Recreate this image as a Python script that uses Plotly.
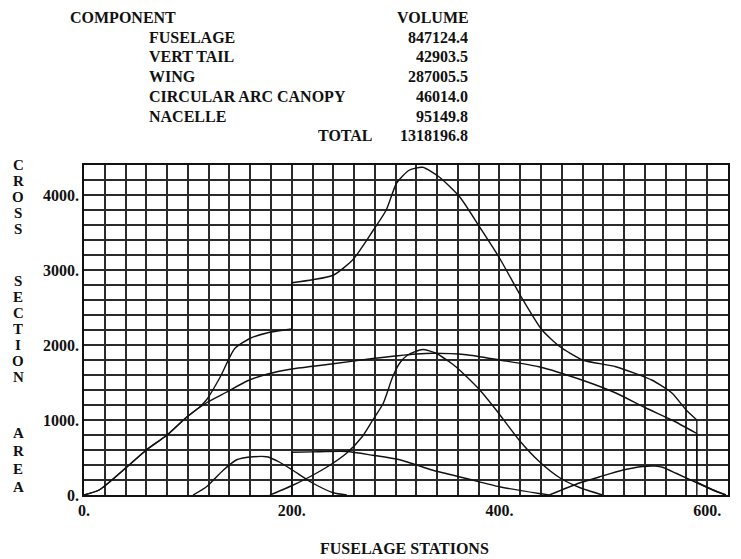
import plotly.graph_objects as go

# Cross-section area distributions along the fuselage (station, area)
fuselage_x = [0, 15, 41, 60, 80, 99, 118, 137, 157, 176, 200, 240, 278, 320, 336, 368, 400, 438, 480, 512, 541, 566, 590, 590]
fuselage_y = [0, 70, 370, 600, 800, 1040, 1230, 1370, 1520, 1610, 1680, 1750, 1820, 1880, 1890, 1870, 1800, 1710, 1530, 1360, 1160, 1000, 820, 0]

canopy_x = [105, 118, 134, 147, 163, 176, 188, 201, 220, 240, 253]
canopy_y = [0, 110, 330, 470, 510, 510, 440, 330, 160, 30, 0]

wing_x = [179, 201, 217, 237, 253, 268, 278, 288, 297, 304, 312, 326, 339, 358, 381, 397, 419, 438, 458, 477, 499]
wing_y = [0, 130, 240, 400, 560, 780, 1000, 1220, 1570, 1760, 1870, 1940, 1890, 1710, 1400, 1130, 730, 450, 230, 100, 0]

nacelle_x = [200, 200, 220, 253, 278, 304, 336, 368, 400, 438, 448]
nacelle_y = [0, 570, 575, 580, 530, 470, 330, 220, 110, 20, 0]

tail_x = [448, 477, 496, 518, 538, 550, 557, 570, 589, 605, 618]
tail_y = [0, 160, 240, 330, 380, 385, 370, 290, 170, 70, 0]

total_x = [0, 15, 41, 60, 80, 99, 111, 118, 131, 145, 160, 176, 198, 200, 200, 220, 240, 259, 278, 291, 301,
           313, 326, 342, 362, 381, 400, 421, 441, 458, 480, 512, 547, 566, 580, 590, 590, 605, 618]
total_y = [0, 70, 370, 600, 800, 1040, 1170, 1270, 1570, 1950, 2090, 2160, 2210, 2210, 2830, 2870, 2930, 3140, 3520, 3800, 4160,
           4330, 4370, 4240, 3970, 3570, 3160, 2640, 2200, 1980, 1800, 1710, 1530, 1360, 1130, 1000, 170, 70, 0]

# Component volume table
components = ["FUSELAGE", "VERT TAIL", "WING", "CIRCULAR ARC CANOPY", "NACELLE"]
volumes = ["847124.4", "42903.5", "287005.5", "46014.0", "95149.8"]
total_volume = "1318196.8"

x_ticks = [0, 200, 400, 600]
x_tick_text = ["0.", "200.", "400.", "600."]
y_ticks = [0, 1000, 2000, 3000, 4000]
y_tick_text = ["0.", "1000.", "2000.", "3000.", "4000."]

W, H = 741, 559
L, R, T, B = 84, 11, 165, 64
PW, PH = W - L - R, H - T - B

FONT = "Liberation Serif"
FS = 16


def px(x):
    return (x - L) / PW


def py(y):
    return (H - B - y) / PH


def split_at_jumps(xs, ys):
    """Break a polyline where it steps vertically, so each smooth piece is splined on its own."""
    pieces, cur_x, cur_y = [], [xs[0]], [ys[0]]
    for i in range(1, len(xs)):
        if xs[i] == xs[i - 1]:
            pieces.append((cur_x, cur_y))
            pieces.append(([xs[i - 1], xs[i]], [ys[i - 1], ys[i]]))
            cur_x, cur_y = [xs[i]], [ys[i]]
        else:
            cur_x.append(xs[i])
            cur_y.append(ys[i])
    pieces.append((cur_x, cur_y))
    return [p for p in pieces if len(p[0]) > 1]


fig = go.Figure()
line_style = dict(color="#111", width=1.4, shape="spline", smoothing=0.6)
for xs, ys in [(fuselage_x, fuselage_y), (canopy_x, canopy_y), (wing_x, wing_y),
               (nacelle_x, nacelle_y), (tail_x, tail_y), (total_x, total_y)]:
    for sx, sy in split_at_jumps(xs, ys):
        fig.add_trace(go.Scatter(x=sx, y=sy, mode="lines", line=line_style,
                                 hoverinfo="skip", showlegend=False))

grid_color = "#2a2a2a"
fig.update_xaxes(range=[0, 620], tickvals=x_ticks, ticktext=x_tick_text,
                 showgrid=True, gridcolor=grid_color, gridwidth=1.5,
                 minor=dict(dtick=20, tick0=0, showgrid=True, gridcolor=grid_color, gridwidth=1.5),
                 showline=True, linecolor="#111", linewidth=1.5, mirror=True,
                 zeroline=False, ticks="",
                 tickfont=dict(family=FONT, size=FS, color="#111", weight="bold"))
fig.update_yaxes(range=[0, 4400], tickvals=y_ticks, ticktext=y_tick_text,
                 showgrid=True, gridcolor=grid_color, gridwidth=1.5,
                 minor=dict(dtick=200, tick0=0, showgrid=True, gridcolor=grid_color, gridwidth=1.5),
                 showline=True, linecolor="#111", linewidth=1.5, mirror=True,
                 zeroline=False, ticks="",
                 tickfont=dict(family=FONT, size=FS, color="#111", weight="bold"))

annotations = []


def text(x, y, s, anchor="left", size=FS, box_h=None):
    ann = dict(x=px(x), y=py(y), xref="paper", yref="paper", text=s,
               showarrow=False, xanchor=anchor, yanchor="middle",
               font=dict(family=FONT, size=size, color="#111", weight="bold"))
    if box_h is not None:
        ann["height"] = box_h
    annotations.append(ann)


# Volume table
row_step = 19.7
text(68, 17, "COMPONENT", box_h=18)
text(472, 17, "VOLUME", anchor="right", box_h=18)
for i, (name, vol) in enumerate(zip(components, volumes)):
    yy = 17 + row_step * (i + 1)
    text(147, yy, name, box_h=18)
    text(471, yy, vol, anchor="right", box_h=18)
text(376, 17 + row_step * 6, "TOTAL", anchor="right", box_h=18)
text(471, 17 + row_step * 6, total_volume, anchor="right", box_h=18)

# Axis titles: horizontal x title, y title stacked one letter per row
text(405, 548, "FUSELAGE STATIONS", anchor="center")
letter_rows = [("CROSS", 165, 16), ("SECTION", 281, 16), ("AREA", 433, 18)]
for word, y0, step in letter_rows:
    for k, ch in enumerate(word):
        text(18, y0 + step * k, ch, anchor="center", size=15, box_h=14)

fig.update_layout(width=W, height=H, margin=dict(l=L, r=R, t=T, b=B),
                  paper_bgcolor="white", plot_bgcolor="white",
                  annotations=annotations)

fig.write_html("out.html")
